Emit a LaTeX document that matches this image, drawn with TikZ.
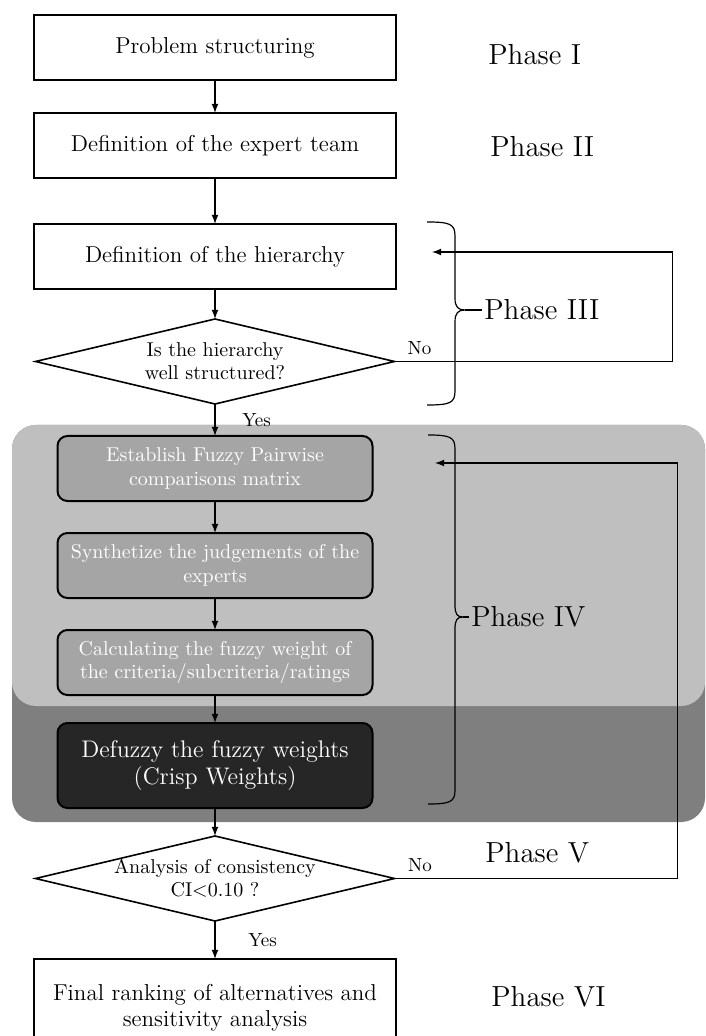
\documentclass[tikz,border=0pt]{standalone}
\usetikzlibrary{arrows}
\usetikzlibrary{positioning, calc}
\definecolor{zonelight}{HTML}{BFBFBF}
\definecolor{zonedark}{HTML}{7F7F7F}
\definecolor{stepgrey}{HTML}{A5A5A5}
\definecolor{crispgrey}{HTML}{262626}

\begin{document}
\begin{tikzpicture}[x=0.5pt, y=-0.5pt]
              \tikzstyle{block} = [rectangle, align=center, draw=black, line width=1.2pt, outer sep=0pt, minimum width=181pt, minimum height=32.5pt, font=\fontsize{11.5}{13}\selectfont]
              \tikzstyle{fuzzy} = [rectangle, rounded corners=5pt, align=center, draw=black, line width=1pt, outer sep=0pt, fill=stepgrey, text=white, minimum width=157.5pt, minimum height=32.5pt, font=\fontsize{10}{11.8}\selectfont]
              \tikzstyle{crisp} = [fuzzy, fill=crispgrey, minimum height=42.5pt, font=\fontsize{12}{13.5}\selectfont]
              \tikzstyle{decision} = [rectangle, align=center, outer sep=0pt, minimum width=179.5pt, minimum height=42.5pt, font=\fontsize{10}{11.5}\selectfont]
              \tikzstyle{phase} = [anchor=west, inner sep=1pt, font=\fontsize{14.5}{17}\selectfont]
              \tikzstyle{answer} = [font=\fontsize{9.5}{11}\selectfont]
              \tikzstyle{line} = [line width=0.6pt]
              \useasboundingbox (0,0) rectangle (705,1036);
              \fill[zonedark, rounded corners=12pt] (12,425) rectangle (705,822);
              \fill[zonelight, rounded corners=12pt] (12,425) rectangle (705,706);
              \node (i) [block] at (215,47.5) {Problem structuring};
              \node (ii) [block, below=16.5pt of i] {Definition of the expert team};
              \node (iii) [block, below=23pt of ii] {Definition of the hierarchy};
              \node (q1) [decision, below=15pt of iii] {Is the hierarchy\\well structured?};
              \node (f1) [fuzzy, below=16pt of q1] {Establish Fuzzy Pairwise\\comparisons matrix};
              \node (f2) [fuzzy, below=16pt of f1] {Synthetize the judgements of the\\experts};
              \node (f3) [fuzzy, below=16pt of f2] {Calculating the fuzzy weight of\\the criteria/subcriteria/ratings};
              \node (f4) [crisp, below=14pt of f3] {Defuzzy the fuzzy weights\\(Crisp Weights)};
              \node (q2) [decision, below=14pt of f4] {Analysis of consistency\\CI<0.10 ?};
              \node (vi) [block, below=19pt of q2, minimum height=49pt] {Final ranking of alternatives and\\sensitivity analysis};
              \foreach \q in {q1,q2}
                \draw[line width=0.8pt] (\q.north) -- (\q.east) -- (\q.south) -- (\q.west) -- cycle;
              \node (p1) [phase] at (486,55) {Phase I};
              \node (p2) [phase] at (488,147) {Phase II};
              \node (p3) [phase] at (482,310) {Phase III};
              \node (p4) [phase] at (469,617) {Phase IV};
              \node (p5) [phase] at (483,853) {Phase V};
              \node (p6) [phase] at (489,997) {Phase VI};
              \foreach \a/\b in {i/ii, ii/iii, iii/q1, f1/f2, f2/f3, f3/f4}
                \draw[line, -latex] (\a) -- (\b);
              \draw[line, -latex] (q1) -- node[answer, right, xshift=10pt] {Yes} (f1);
              \draw[line, -latex] (f4) -- (q2);
              \draw[line, -latex] (q2) -- node[answer, right, xshift=13pt] {Yes} (vi);
              \coordinate (back3) at (432,252);
              \coordinate (back4) at (435,463);
              \draw[line, -latex] (q1.east) -- node[answer, above, pos=0.09] {No} ++(278,0) |- (back3);
              \draw[line, -latex] (q2.east) -- node[answer, above, pos=0.09] {No} ++(283,0) |- (back4);
              \coordinate (tip3) at (465,310);
              \coordinate (tip4) at (463,617);
              \draw[line] (427,222) .. controls (450,222) and (455,224) .. (455,236) -- (455,298) .. controls (455,307) and (458,310) .. (tip3) .. controls (458,310) and (455,313) .. (455,322) -- (455,391) .. controls (455,403) and (450,405) .. (427,405);
              \draw[line] (428,435) .. controls (450,435) and (455,437) .. (455,449) -- (455,605) .. controls (455,614) and (457,617) .. (tip4) .. controls (457,617) and (455,620) .. (455,629) -- (455,790) .. controls (455,802) and (450,804) .. (428,804);
              \draw[line] (tip3) -- (p3);
              \draw[line] (tip4) -- (p4);
            \end{tikzpicture}
\end{document}
